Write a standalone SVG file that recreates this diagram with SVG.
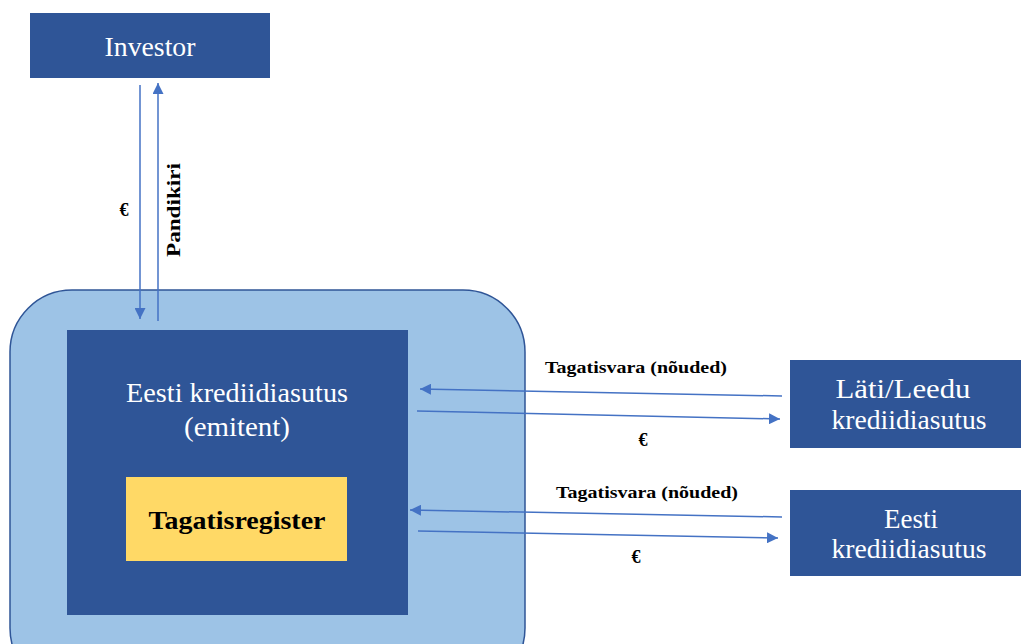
<svg xmlns="http://www.w3.org/2000/svg" width="1021" height="644" viewBox="0 0 1021 644">
<style>
.dark{fill:#2F5597}
.wt{font-family:"Liberation Serif",serif;fill:#fff;font-size:27px;text-anchor:middle}
.bt{font-family:"Liberation Serif",serif;fill:#000;font-weight:bold;text-anchor:middle}
.ar{stroke:#4472C4;stroke-width:1.5;fill:none;marker-end:url(#ah)}
</style>
<defs>
<marker id="ah" viewBox="0 0 10 10" refX="10" refY="5" markerWidth="11" markerHeight="11" markerUnits="userSpaceOnUse" orient="auto">
<path d="M0,0 L10,5 L0,10 z" fill="#4472C4"/>
</marker>
</defs>
<rect width="1021" height="644" fill="#fff"/>
<g id="emitent-outer">
<rect x="10" y="290" width="515" height="400" rx="62" fill="#9DC3E6" stroke="#2F5597" stroke-width="1.5"/>
</g>
<g id="emitent">
<rect class="dark" x="67" y="330" width="341" height="285"/>
<text class="wt" x="237" y="402" textLength="222" lengthAdjust="spacingAndGlyphs">Eesti krediidiasutus</text>
<text class="wt" x="237" y="436" textLength="106" lengthAdjust="spacingAndGlyphs">(emitent)</text>
</g>
<g id="tagatisregister">
<rect x="126" y="477" width="221" height="84" fill="#FFD966"/>
<text class="bt" x="237" y="529" font-size="26" textLength="177" lengthAdjust="spacingAndGlyphs">Tagatisregister</text>
</g>
<g id="investor">
<rect class="dark" x="30" y="13" width="240" height="65"/>
<text class="wt" x="150" y="56" textLength="91" lengthAdjust="spacingAndGlyphs">Investor</text>
</g>
<g id="lati">
<rect class="dark" x="790" y="360" width="231" height="88"/>
<text class="wt" x="903" y="398" textLength="135" lengthAdjust="spacingAndGlyphs">Läti/Leedu</text>
<text class="wt" x="909" y="429" textLength="155" lengthAdjust="spacingAndGlyphs">krediidiasutus</text>
</g>
<g id="eesti">
<rect class="dark" x="790" y="490" width="231" height="86"/>
<text class="wt" x="911" y="528" textLength="54" lengthAdjust="spacingAndGlyphs">Eesti</text>
<text class="wt" x="909" y="558" textLength="155" lengthAdjust="spacingAndGlyphs">krediidiasutus</text>
</g>
<g id="connectors">
<line class="ar" x1="140" y1="85" x2="140" y2="319"/>
<line class="ar" x1="158" y1="321" x2="158" y2="83"/>
<line class="ar" x1="782" y1="396" x2="420" y2="389"/>
<line class="ar" x1="417" y1="411" x2="780" y2="419"/>
<line class="ar" x1="782" y1="517" x2="410" y2="510"/>
<line class="ar" x1="418" y1="531" x2="778" y2="538"/>
</g>
<g id="labels">
<text class="bt" x="124" y="216" font-size="18">€</text>
<text class="bt" font-size="18" transform="translate(180,210) rotate(-90)" textLength="94" lengthAdjust="spacingAndGlyphs">Pandikiri</text>
<text class="bt" x="636" y="373" font-size="17" textLength="182" lengthAdjust="spacingAndGlyphs">Tagatisvara (nõuded)</text>
<text class="bt" x="643" y="446" font-size="18">€</text>
<text class="bt" x="647" y="498" font-size="17" textLength="182" lengthAdjust="spacingAndGlyphs">Tagatisvara (nõuded)</text>
<text class="bt" x="636" y="563" font-size="18">€</text>
</g>
</svg>
